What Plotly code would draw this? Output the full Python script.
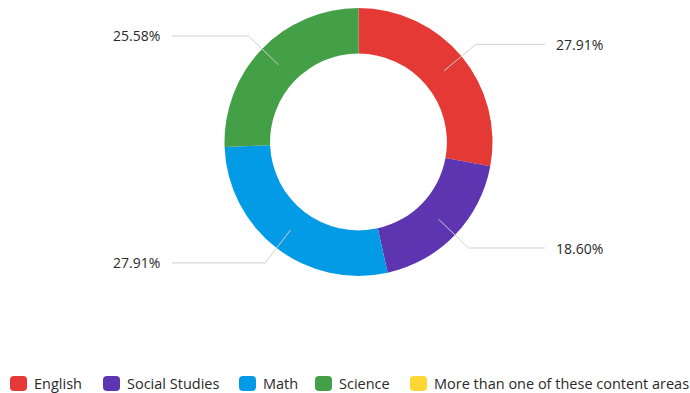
import math
import plotly.graph_objects as go

categories = ["English", "Social Studies", "Math", "Science", "More than one of these content areas"]
values = [12, 8, 12, 11, 0]
colors = ["#E53935", "#5E35B1", "#039BE5", "#43A047", "#FDD835"]

W, H = 690, 393
cx, cy, R = 358.5, 142, 134
hole = 0.66
FONT = "Open Sans, Roboto, sans-serif"
TXT = "#2a2a2a"

fig = go.Figure(go.Pie(
    labels=categories, values=values, sort=False, direction="clockwise",
    hole=hole, textinfo="none", hoverinfo="label+percent", showlegend=False,
    marker=dict(colors=colors, line=dict(width=0)),
    domain=dict(x=[(cx - R) / W, (cx + R) / W], y=[1 - (cy + R) / H, 1 - (cy - R) / H]),
))

def px(x, y):
    return x / W, 1 - y / H

total = sum(values)
cum = 0
shapes, annotations = [], []
r_start = R * (1 + hole) / 2
r_elbow = R * 1.14
for v in values:
    if v <= 0:
        continue
    mid = (cum + v / 2) / total * 2 * math.pi
    cum += v
    dx, dy = math.sin(mid), -math.cos(mid)
    x0, y0 = cx + r_start * dx, cy + r_start * dy
    x1, y1 = cx + r_elbow * dx, cy + r_elbow * dy
    right = dx > 0
    x2 = 545 if right else 172
    pts = [px(x0, y0), px(x1, y1), px(x2, y1)]
    path = "M {} {} L {} {} L {} {}".format(pts[0][0], pts[0][1], pts[1][0], pts[1][1], pts[2][0], pts[2][1])
    shapes.append(dict(type="path", path=path, xref="paper", yref="paper",
                       line=dict(color="#d0d0d0", width=1)))
    lx = 554 if right else 162
    ax, ay = px(lx, y1)
    annotations.append(dict(x=ax, y=ay, xref="paper", yref="paper", showarrow=False,
                            text="{:.2f}%".format(v / total * 100),
                            xanchor="left" if right else "right", yanchor="middle",
                            font=dict(size=14, color=TXT, family=FONT, weight=500)))

# manual legend (rounded square swatches + text)
legend_x = [10, 103, 239, 315, 410]
ly, sw, sh, rr = 383.5, 17, 15, 4
for name, col, lx in zip(categories, colors, legend_x):
    x0, x1 = lx, lx + sw
    y0, y1 = ly - sh / 2, ly + sh / 2
    p = [
        ("M", x0 + rr, y0), ("L", x1 - rr, y0), ("Q", x1, y0, x1, y0 + rr),
        ("L", x1, y1 - rr), ("Q", x1, y1, x1 - rr, y1), ("L", x0 + rr, y1),
        ("Q", x0, y1, x0, y1 - rr), ("L", x0, y0 + rr), ("Q", x0, y0, x0 + rr, y0),
    ]
    segs = []
    for s in p:
        coords = []
        for i in range(1, len(s), 2):
            a, b = px(s[i], s[i + 1])
            coords.append("{} {}".format(a, b))
        segs.append(s[0] + " " + " ".join(coords))
    shapes.append(dict(type="path", path=" ".join(segs) + " Z", xref="paper", yref="paper",
                       fillcolor=col, line=dict(width=0)))
    tx, ty = px(lx + 22, ly)
    annotations.append(dict(x=tx, y=ty, xref="paper", yref="paper", showarrow=False,
                            text=name, xanchor="left", yanchor="middle",
                            font=dict(size=14.5, color=TXT, family=FONT, weight=500)))

fig.update_layout(
    width=W, height=H, margin=dict(l=0, r=0, t=0, b=0),
    paper_bgcolor="white", plot_bgcolor="white",
    font=dict(family=FONT, color=TXT, size=14),
    shapes=shapes, annotations=annotations,
)

fig.write_html("out.html")
